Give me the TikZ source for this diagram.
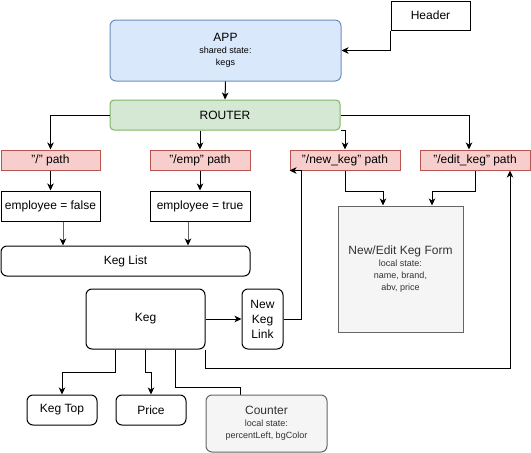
\documentclass[tikz,border=0pt]{standalone}
\usepackage{fontspec}
\setmainfont{Liberation Sans}
\usetikzlibrary{arrows.meta,calc}
\definecolor{appfill}{HTML}{DAE8FC}
\definecolor{appline}{HTML}{6C8EBF}
\definecolor{routefill}{HTML}{D5E8D4}
\definecolor{routeline}{HTML}{82B366}
\definecolor{pathfill}{HTML}{F8CECC}
\definecolor{pathline}{HTML}{B85450}
\definecolor{greyfill}{HTML}{F5F5F5}
\definecolor{greyline}{HTML}{666666}
\definecolor{greytext}{HTML}{333333}
\definecolor{feedline}{HTML}{666666}
\newcommand{\bigtxt}{\fontsize{12}{15}\selectfont}
\newcommand{\smalltxt}{\fontsize{9}{14.5}\selectfont}
\tikzset{
  box/.style={draw=black, line width=1pt, inner sep=0pt, align=center, font=\bigtxt},
  rbox/.style={box, rounded corners=6pt},
  appbox/.style={rbox, fill=appfill, draw=appline},
  routebox/.style={rbox, fill=routefill, draw=routeline, rounded corners=4pt},
  pathbox/.style={box, fill=pathfill, draw=pathline},
  greybox/.style={box, fill=greyfill, draw=greyline, text=greytext},
  link/.style={line width=1pt, -{Stealth[length=7pt,width=6.5pt,inset=2pt]}},
  feed/.style={line width=1pt, draw=feedline, -{Stealth[length=7pt,width=6.5pt,inset=2pt,color=black]}},
  plain/.style={line width=1pt},
}
\begin{document}
\begin{tikzpicture}[x=1pt,y=-1pt]
\useasboundingbox (0,0) rectangle (531,453);

% top level
\node[box, minimum width=79, minimum height=29] (header) at (430.5,15.5) {Header};
\node[appbox, minimum width=231, minimum height=61] (app) at (225.5,50.5)
  {APP\\[-3pt]{\smalltxt shared state:}\\[-3pt]{\smalltxt kegs}};
\node[routebox, minimum width=230, minimum height=30] (router) at (225,115) {ROUTER};

% routes
\node[pathbox, minimum width=99, minimum height=20] (slash) at (50.5,160) {"/" path};
\node[pathbox, minimum width=100, minimum height=20] (emp) at (200,160) {"/emp" path};
\node[pathbox, minimum width=110, minimum height=20] (newkeg) at (345,160) {"/new\_keg" path};
\node[pathbox, minimum width=110, minimum height=20] (editkeg) at (475,160) {"/edit\_keg" path};

% list branch
\node[box, minimum width=99, minimum height=30] (empfalse) at (50.5,206) {employee = false};
\node[box, minimum width=100, minimum height=30] (emptrue) at (200,206) {employee = true};
\node[rbox, minimum width=249, minimum height=30] (keglist) at (125.5,261) {Keg List};

% form
\node[greybox, minimum width=125, minimum height=126] (form) at (400.5,269)
  {New/Edit Keg Form\\[-3pt]{\smalltxt local state:}\\[-3pt]{\smalltxt name, brand,}\\[-3pt]{\smalltxt abv, price}};

% keg components
\node[rbox, minimum width=119, minimum height=60] (keg) at (145.5,319) {Keg};
\node[rbox, minimum width=41, minimum height=60] (newlink) at (262.5,319) {New\\Keg\\Link};
\node[rbox, minimum width=70, minimum height=30] (kegtop) at (62,410) {Keg Top};
\node[rbox, minimum width=70, minimum height=30] (price) at (151,410) {Price};

% connectors
\draw[link] (header.south west) |- (app.east);
\draw[link] (app.south) -- (router.north);
\draw[link] (router.west) -| (slash.north);
\draw[link] (router.south -| emp.north) -- (emp.north);
\draw[link] (router.south east) -| (newkeg.north);
\coordinate (editin) at ($(editkeg.north)+(-6,0)$);
\draw[link] (router.east) -| (editin);

\draw[link] (slash.south) -- (empfalse.north);
\draw[link] (emp.south) -- (emptrue.north);
\coordinate (fout) at ($(empfalse.south)+(12.5,0)$);
\coordinate (tout) at ($(emptrue.south)+(-12,0)$);
\draw[feed] (fout) -- (fout |- keglist.north);
\draw[feed] (tout) -- (tout |- keglist.north);

\coordinate (formin1) at ($(form.north)+(-17.5,0)$);
\coordinate (formin2) at ($(form.north)+(31.5,0)$);
\draw[link] (newkeg.south) -- ++(0,21) -| (formin1);
\draw[link] (editkeg.south) -- ++(0,21) -| (formin2);

\draw[link] (keg.east) -- (newlink.west);
\draw[link] (newlink.east) -- ++(18,0) |- (newkeg.south west);
\coordinate (editback) at ($(editkeg.south)+(35,0)$);
\draw[link] (keg.south east) -- ++(0,19) -| (editback);

\coordinate (kout1) at ($(keg.south)+(-30.5,0)$);
\coordinate (kout3) at ($(keg.south)+(29.5,0)$);
\draw[link] (kout1) -- ++(0,23) -| (kegtop.north);
\draw[link] (keg.south) -- ++(0,23) -| (price.north);
\coordinate (cbend) at ($(keg.south)+(94.5,38)$);
\draw[plain] (kout3) |- (cbend) -- ++(0,10);

% counter drawn last so the connector end sits beneath it
\node[greybox, rounded corners=6pt, minimum width=121, minimum height=57] (counter) at (266.5,423.5)
  {Counter\\[-3pt]{\smalltxt local state:}\\[-3pt]{\smalltxt percentLeft, bgColor}};
\end{tikzpicture}
\end{document}
